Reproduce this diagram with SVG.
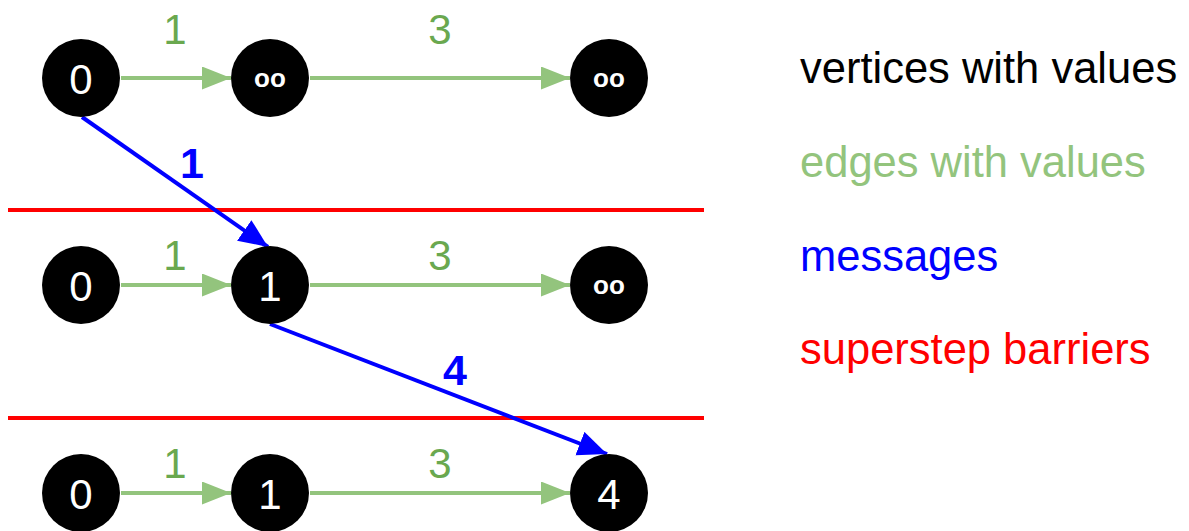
<svg xmlns="http://www.w3.org/2000/svg" width="1189" height="531" viewBox="0 0 1189 531">
<style>
.node circle{fill:#000}
.nv{fill:#fff;font-family:"Liberation Sans",Arial,sans-serif;font-size:42px;text-anchor:middle}
.inf{fill:#fff;font-family:"Liberation Sans",Arial,sans-serif;font-size:26px;font-weight:bold;text-anchor:middle}
.edge{stroke:#93c47d;stroke-width:4;fill:none}
.msg{stroke:#0000ff;stroke-width:4;fill:none}
.bar{stroke:#ff0000;stroke-width:4}
.el{fill:#6aa84f;font-family:"Liberation Sans",Arial,sans-serif;font-size:42px;text-anchor:middle}
.ml{fill:#0000ff;font-family:"Liberation Sans",Arial,sans-serif;font-size:43px;font-weight:bold;text-anchor:middle}
.leg{font-family:"Liberation Sans",Arial,sans-serif;font-size:43.5px}
</style>
<defs>
<marker id="ga" markerUnits="userSpaceOnUse" markerWidth="30" markerHeight="24" refX="29" refY="11.5" orient="auto"><path d="M0,0 L29,11.5 L0,23 z" fill="#93c47d"/></marker>
<marker id="ba" markerUnits="userSpaceOnUse" markerWidth="30" markerHeight="26" refX="29" refY="12.5" orient="auto"><path d="M0,0 L29,12.5 L0,25 z" fill="#0000ff"/></marker>
</defs>
<g id="barriers">
<line class="bar" x1="8" y1="210" x2="704" y2="210"/>
<line class="bar" x1="8" y1="418" x2="704" y2="418"/>
</g>
<g id="connectors">
<line class="edge" x1="121" y1="78" x2="231" y2="78" marker-end="url(#ga)"/>
<line class="edge" x1="310" y1="78" x2="570" y2="78" marker-end="url(#ga)"/>
<line class="edge" x1="121" y1="285" x2="231" y2="285" marker-end="url(#ga)"/>
<line class="edge" x1="310" y1="285" x2="570" y2="285" marker-end="url(#ga)"/>
<line class="edge" x1="121" y1="493" x2="231" y2="493" marker-end="url(#ga)"/>
<line class="edge" x1="310" y1="493" x2="570" y2="493" marker-end="url(#ga)"/>
<line class="msg" x1="82" y1="117" x2="268" y2="247" marker-end="url(#ba)"/>
<line class="msg" x1="270" y1="324" x2="607" y2="454" marker-end="url(#ba)"/>
<text class="el" x="175" y="44">1</text>
<text class="el" x="440" y="44">3</text>
<text class="el" x="175" y="270">1</text>
<text class="el" x="440" y="270">3</text>
<text class="el" x="175" y="478">1</text>
<text class="el" x="440" y="478">3</text>
<text class="ml" x="192" y="178">1</text>
<text class="ml" x="455" y="385">4</text>
</g>
<g id="n00" class="node"><circle cx="81" cy="78" r="39"/><text class="nv" x="81" y="94">0</text></g>
<g id="n01" class="node"><circle cx="270" cy="78" r="39"/><text class="inf" x="270" y="87">oo</text></g>
<g id="n02" class="node"><circle cx="609" cy="78" r="39"/><text class="inf" x="609" y="87">oo</text></g>
<g id="n10" class="node"><circle cx="81" cy="285" r="39"/><text class="nv" x="81" y="301">0</text></g>
<g id="n11" class="node"><circle cx="270" cy="285" r="39"/><text class="nv" x="270" y="301">1</text></g>
<g id="n12" class="node"><circle cx="609" cy="285" r="39"/><text class="inf" x="609" y="294">oo</text></g>
<g id="n20" class="node"><circle cx="81" cy="493" r="39"/><text class="nv" x="81" y="509">0</text></g>
<g id="n21" class="node"><circle cx="270" cy="493" r="39"/><text class="nv" x="270" y="509">1</text></g>
<g id="n22" class="node"><circle cx="609" cy="493" r="39"/><text class="nv" x="609" y="509">4</text></g>
<g id="legend">
<text class="leg" x="800" y="83" fill="#000">vertices with values</text>
<text class="leg" x="800" y="177" fill="#93c47d">edges with values</text>
<text class="leg" x="800" y="271" fill="#0000ff">messages</text>
<text class="leg" x="800" y="364" fill="#ff0000">superstep barriers</text>
</g>
</svg>
